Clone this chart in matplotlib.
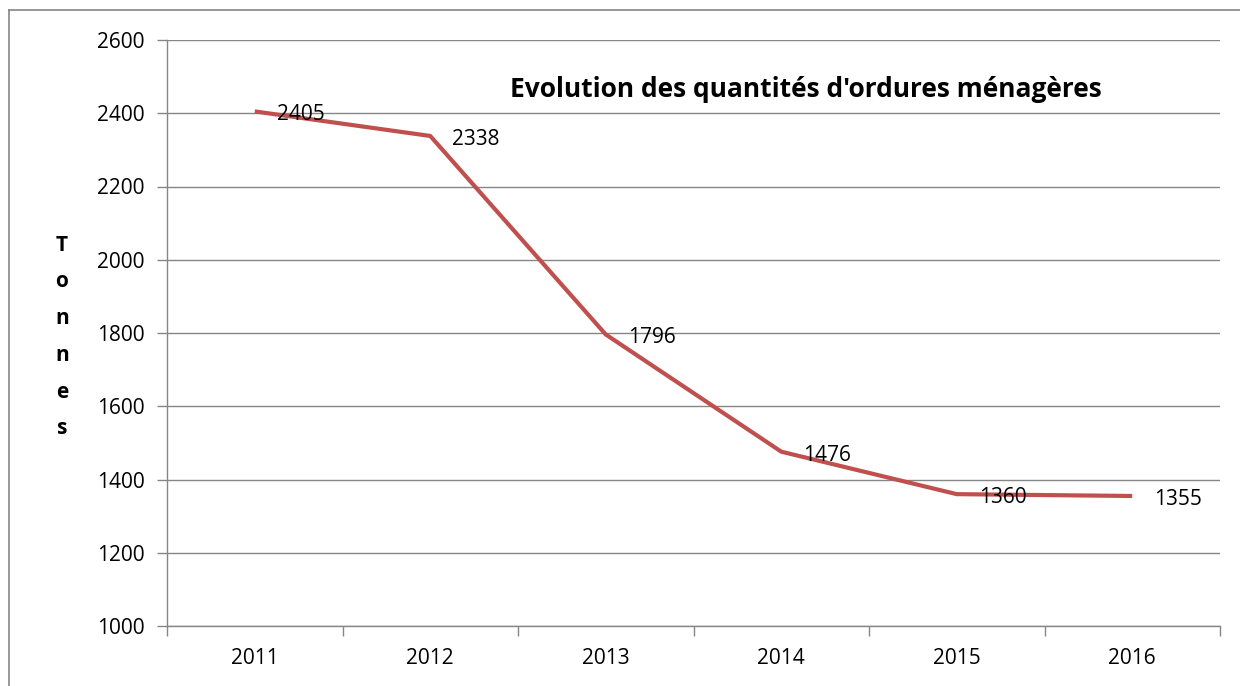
import matplotlib.pyplot as plt
from matplotlib.lines import Line2D

years = ['2011', '2012', '2013', '2014', '2015', '2016']
tonnes = [2405, 2338, 1796, 1476, 1360, 1355]

plt.rcParams['font.family'] = ['Open Sans', 'DejaVu Sans']

fig = plt.figure(figsize=(12.4, 6.86), dpi=100)
ax = fig.add_axes([167/1240, 1-626/686, (1220-167)/1240, (626-40)/686])

x = list(range(len(years)))
ax.plot(x, tonnes, color='#C0504D', linewidth=3, solid_capstyle='butt', zorder=3)
for xi, v in zip(x, tonnes):
    ax.annotate(str(v), (xi, v), xytext=(16, -2.5), textcoords='offset points',
                ha='left', va='center', fontsize=15)

ax.set_xlim(-0.5, 5.5)
ax.set_ylim(1000, 2600)
ax.set_yticks(range(1000, 2601, 200))
ax.set_xticks(x)
ax.set_xticklabels(years)
ax.set_xticks([i - 0.5 for i in range(7)], minor=True)
ax.tick_params(axis='x', which='major', length=0, pad=16, labelsize=15)
ax.tick_params(axis='x', which='minor', length=7, color='#868686', width=1)
ax.tick_params(axis='y', length=7, color='#868686', width=1, labelsize=15, pad=9)
ax.grid(axis='y', color='#868686', linewidth=1)
for s in ['top', 'right']:
    ax.spines[s].set_visible(False)
for s in ['left', 'bottom']:
    ax.spines[s].set_color('#868686')
    ax.spines[s].set_linewidth(1)

ax.text(0.607, 0.915, "Evolution des quantités d'ordures ménagères",
        transform=ax.transAxes, ha='center', va='center', fontsize=19, fontweight='bold')

fig.text(62/1240, 1-337/686, "T\no\nn\nn\ne\ns", ha='center', va='center',
         fontsize=15, fontweight='bold', linespacing=1.98)

# outer chart border (left and top visible)
fig.add_artist(Line2D([9/1240, 9/1240], [0, 1-10/686], transform=fig.transFigure, color='#868686', lw=1.2))
fig.add_artist(Line2D([9/1240, 1], [1-10/686, 1-10/686], transform=fig.transFigure, color='#868686', lw=1.2))

fig.savefig('out.png', dpi=100)
